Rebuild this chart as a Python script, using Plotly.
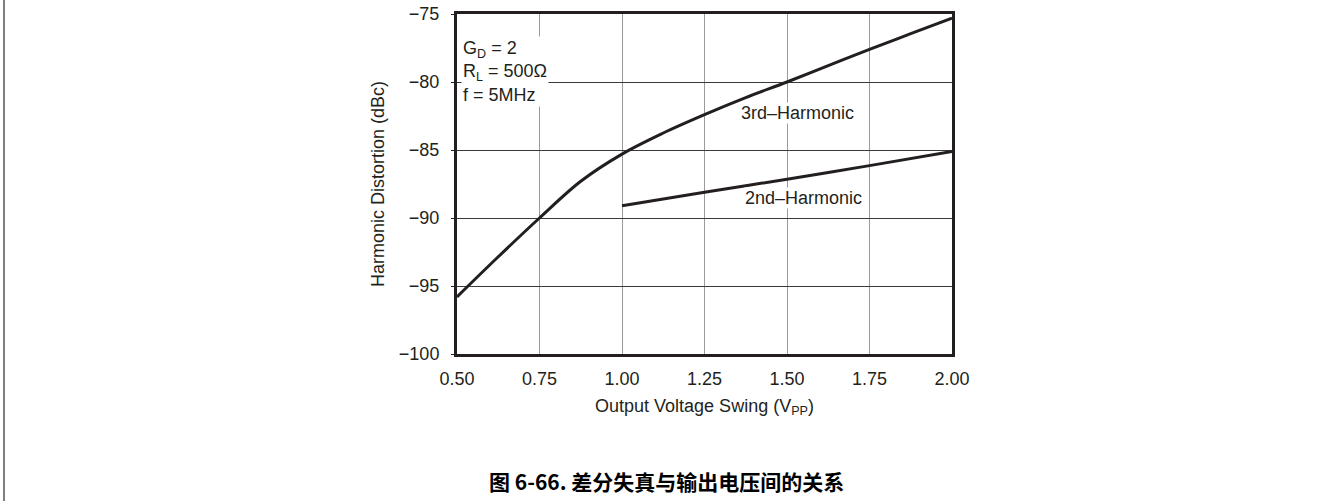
import plotly.graph_objects as go

# Output voltage swing (Vpp) and harmonic distortion (dBc)
vpp_3rd = [0.5, 0.625, 0.75, 0.875, 1.0, 1.125, 1.25, 1.375, 1.5, 1.625, 1.75, 1.875, 2.0]
hd3_dbc = [-95.8, -92.85, -90.0, -87.3, -85.3, -83.75, -82.4, -81.15, -80.0, -78.8, -77.6, -76.45, -75.3]

vpp_2nd = [1.0, 1.25, 1.5, 1.75, 2.0]
hd2_dbc = [-89.1, -88.1, -87.15, -86.15, -85.1]

x_ticks = [0.5, 0.75, 1.0, 1.25, 1.5, 1.75, 2.0]
x_tick_labels = ["0.50", "0.75", "1.00", "1.25", "1.50", "1.75", "2.00"]
y_ticks = [-100, -95, -90, -85, -80, -75]

W, H = 1332, 501
L, R, T, B = 457, 380, 14, 147
plot_w = W - L - R
plot_h = H - T - B

FONT = "Liberation Sans, Arial, sans-serif"
INK = "#231f20"


def px_x(px):
    """Pixel column -> paper x."""
    return (px - L) / plot_w


def px_y(py):
    """Pixel row -> paper y."""
    return (H - B - py) / plot_h


fig = go.Figure()
fig.add_trace(go.Scatter(x=vpp_3rd, y=hd3_dbc, mode="lines",
                         line=dict(color=INK, width=3, shape="spline", smoothing=1.0),
                         showlegend=False, hoverinfo="skip"))
fig.add_trace(go.Scatter(x=vpp_2nd, y=hd2_dbc, mode="lines",
                         line=dict(color=INK, width=3, shape="spline", smoothing=0.6),
                         showlegend=False, hoverinfo="skip"))

fig.add_annotation(x=0.513, y=-76.6, xref="x", yref="y", xanchor="left", yanchor="top",
                   text="G<sub>D</sub> = 2<br>R<sub>L</sub> = 500Ω<br>f = 5MHz",
                   align="left", showarrow=False, bgcolor="white",
                   font=dict(family=FONT, size=18, color=INK))
fig.add_annotation(x=1.532, y=-82.3, xref="x", yref="y",
                   text="3rd–Harmonic", showarrow=False, bgcolor="white", borderpad=0,
                   font=dict(family=FONT, size=18, color=INK))
fig.add_annotation(x=1.55, y=-88.55, xref="x", yref="y",
                   text="2nd–Harmonic", showarrow=False, bgcolor="white", borderpad=0,
                   font=dict(family=FONT, size=18, color=INK))

# figure caption
fig.add_annotation(x=px_x(666), y=px_y(481), xref="paper", yref="paper",
                   xanchor="center", yanchor="middle",
                   text="<b>图 6-66. 差分失真与输出电压间的关系</b>", showarrow=False,
                   font=dict(family="Noto Sans CJK SC, sans-serif", size=21, color="black"))

# left page rule
fig.add_shape(type="line", xref="paper", yref="paper",
              x0=px_x(4), x1=px_x(4), y0=px_y(-2), y1=px_y(H + 2),
              line=dict(color="#7f7f7f", width=2))

fig.update_xaxes(range=[0.5, 2.0], tickvals=x_ticks, ticktext=x_tick_labels,
                 showgrid=True, gridcolor="#9a9a9a", gridwidth=1,
                 showline=True, linecolor=INK, linewidth=3, mirror=True,
                 ticks="", zeroline=False, ticklabelstandoff=6, automargin=False,
                 tickfont=dict(family=FONT, size=18, color=INK),
                 title=dict(text="Output Voltage Swing (V<sub>PP</sub>)",
                            font=dict(family=FONT, size=18, color=INK), standoff=12))
fig.update_yaxes(range=[-100, -75], tickvals=y_ticks,
                 showgrid=True, gridcolor="#3a3a3a", gridwidth=1,
                 showline=True, linecolor=INK, linewidth=3, mirror=True,
                 ticks="outside", ticklen=3, tickcolor=INK, zeroline=False,
                 ticklabelstandoff=8, automargin=False,
                 tickfont=dict(family=FONT, size=18, color=INK),
                 title=dict(text="Harmonic Distortion (dBc)",
                            font=dict(family=FONT, size=18, color=INK), standoff=10))

fig.update_layout(width=W, height=H, margin=dict(l=L, r=R, t=T, b=B, autoexpand=False),
                  plot_bgcolor="white", paper_bgcolor="white")

fig.write_html("out.html")
